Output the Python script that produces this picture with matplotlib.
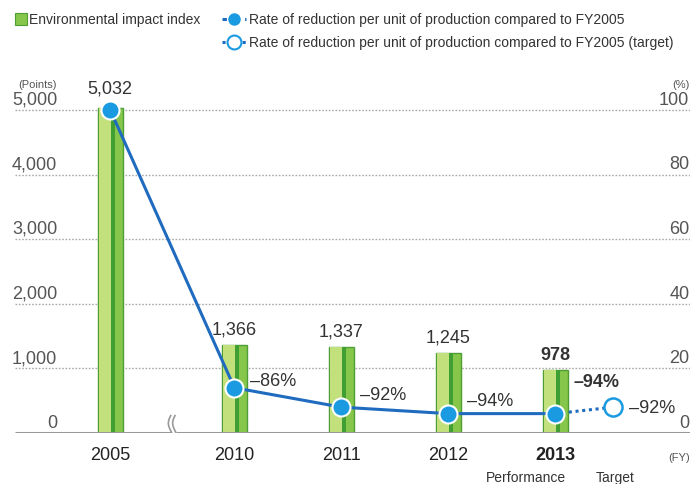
import matplotlib
matplotlib.use("Agg")
import numpy as np
import matplotlib.pyplot as plt
from matplotlib.lines import Line2D
from matplotlib.patches import Rectangle

plt.rcParams['font.family'] = ['Liberation Sans', 'DejaVu Sans']

# Data
years = ['2005', '2010', '2011', '2012', '2013']
index_values = [5032, 1366, 1337, 1245, 978]
index_labels = ['5,032', '1,366', '1,337', '1,245', '978']
rate_values = [100, 14, 8, 6, 6]
rate_labels = ['', '–86%', '–92%', '–94%', '–94%']
target_rate = 8
target_label = '–92%'
left_ticks = [0, 1000, 2000, 3000, 4000, 5000]
left_tick_labels = ['0', '1,000', '2,000', '3,000', '4,000', '5,000']
right_ticks = [0, 20, 40, 60, 80, 100]

# Layout
xpos = [-1.16, 0, 1, 2, 3]
target_x = 3.54
bar_w = 0.235
ymax = 5789
scale = 50  # 100% == 5000 points

bar_green = '#86c64a'
bar_light = '#c2e17c'
bar_dark = '#3f9f32'
bar_edge = '#4f9e35'
line_blue = '#1f6bbf'
dot_blue = '#1a9ae0'
text_dark = '#333333'
tick_gray = '#555555'

fig = plt.figure(figsize=(6.92, 4.85), dpi=100)
ax = fig.add_axes([15 / 692, 51 / 485, 675 / 692, 374 / 485])
ax.set_xlim(-2.05, 4.257)
ax.set_ylim(0, ymax)
ax.axis('off')

# grid lines and tick labels
for t, lab, r in zip(left_ticks, left_tick_labels, right_ticks):
    if t > 0:
        ax.plot([-2.05, 4.257], [t, t], ls=(0, (1.2, 1.2)), color='#aaaaaa', lw=1, zorder=1)
    ax.text(-1.655, t + 35, lab, ha='right', va='bottom', fontsize=13, color=tick_gray)
    ax.text(4.25, t + 35, str(r), ha='right', va='bottom', fontsize=13, color=tick_gray)
ax.plot([-2.05, 4.257], [0, 0], color='#999999', lw=2.2, zorder=5, solid_capstyle='butt')
ax.text(-2.02, 5000 + 330, '(Points)', ha='left', va='bottom', fontsize=8, color=tick_gray)
ax.text(4.25, 5000 + 330, '(%)', ha='right', va='bottom', fontsize=8, color=tick_gray)

# axis break mark (two wavy strokes)
bx = -0.575
wy = np.linspace(-200, 270, 40)
wx = 0.022 * np.sin((wy + 200) / 470 * 2 * np.pi)
ax.fill_betweenx(wy, bx - 0.02 + wx, bx + 0.02 + wx, color='white', zorder=5.5)
ax.plot(bx - 0.02 + wx, wy, color='#999999', lw=1.2, zorder=6)
ax.plot(bx + 0.02 + wx, wy, color='#999999', lw=1.2, zorder=6)

# bars with striped green look
for x, h in zip(xpos, index_values):
    ax.bar(x, h, width=bar_w, color=bar_green, edgecolor=bar_edge, lw=1, zorder=2)
    ax.bar(x - bar_w * 0.2, h, width=bar_w * 0.5, color=bar_light, lw=0, zorder=3)
    ax.bar(x + bar_w * 0.1, h, width=bar_w * 0.14, color=bar_dark, lw=0, zorder=3)

# bar value labels
for i, (x, h, lab) in enumerate(zip(xpos, index_values, index_labels)):
    off = 170 if i == 0 else 110
    ax.text(x, h + off, lab, ha='center', va='bottom', fontsize=13,
            fontweight='bold' if i == 4 else 'normal', color=text_dark)

# rate line (right axis)
rate_y = [r * scale for r in rate_values]
ax.plot(xpos, rate_y, color=line_blue, lw=2.2, zorder=7)
ax.plot([xpos[-1], target_x], [rate_y[-1], target_rate * scale], color=line_blue,
        lw=2.2, ls=(0, (1, 1.2)), zorder=7)
ax.plot(xpos, rate_y, 'o', ms=13, mfc=dot_blue, mec='white', mew=1.5, zorder=8)
ax.plot([target_x], [target_rate * scale], 'o', ms=13, mfc='white', mec=dot_blue,
        mew=1.8, zorder=8)

rate_offsets = [(0, 0), (0.15, 110), (0.17, 190), (0.17, 200), (0.17, 500)]
for i, (x, y, lab) in enumerate(zip(xpos, rate_y, rate_labels)):
    if not lab:
        continue
    dx, dy = rate_offsets[i]
    ax.text(x + dx, y + dy, lab, ha='left', va='center', fontsize=13,
            fontweight='bold' if i == 4 else 'normal', color=text_dark)
ax.text(target_x + 0.15, target_rate * scale, target_label, ha='left', va='center',
        fontsize=13, color=text_dark)

# x labels
for i, (x, yr) in enumerate(zip(xpos, years)):
    ax.text(x, -200, yr, ha='center', va='top', fontsize=13,
            fontweight='bold' if i == 4 else 'medium', color='#222222')
ax.text(xpos[-1] - 0.28, -570, 'Performance', ha='center', va='top', fontsize=10, color=text_dark)
ax.text(target_x + 0.02, -570, 'Target', ha='center', va='top', fontsize=10, color=text_dark)
ax.text(4.255, -300, '(FY)', ha='right', va='top', fontsize=8, color=tick_gray)

# legend
fig.patches.append(Rectangle((15 / 692, 1 - 26 / 485), 12 / 692, 12 / 485,
                             transform=fig.transFigure, facecolor=bar_green,
                             edgecolor=bar_edge, lw=0.8))
fig.text(29 / 692, 1 - 20 / 485, 'Environmental impact index', ha='left', va='center',
         fontsize=10, color=text_dark)
fig.lines.append(Line2D([222 / 692, 246 / 692], [1 - 20 / 485] * 2, transform=fig.transFigure,
                        color=line_blue, lw=2.2, ls=(0, (2.2, 1.5))))
fig.lines.append(Line2D([234 / 692], [1 - 20 / 485], transform=fig.transFigure, marker='o',
                        ms=10, mfc=dot_blue, mec='white', mew=1))
fig.text(249 / 692, 1 - 20 / 485, 'Rate of reduction per unit of production compared to FY2005',
         ha='left', va='center', fontsize=10, color=text_dark)
fig.lines.append(Line2D([222 / 692, 246 / 692], [1 - 43 / 485] * 2, transform=fig.transFigure,
                        color=line_blue, lw=2.2, ls=(0, (1, 1.2))))
fig.lines.append(Line2D([234 / 692], [1 - 43 / 485], transform=fig.transFigure, marker='o',
                        ms=10, mfc='white', mec=dot_blue, mew=1.5))
fig.text(249 / 692, 1 - 43 / 485,
         'Rate of reduction per unit of production compared to FY2005 (target)',
         ha='left', va='center', fontsize=10, color=text_dark)

fig.savefig('out.png', dpi=100)
